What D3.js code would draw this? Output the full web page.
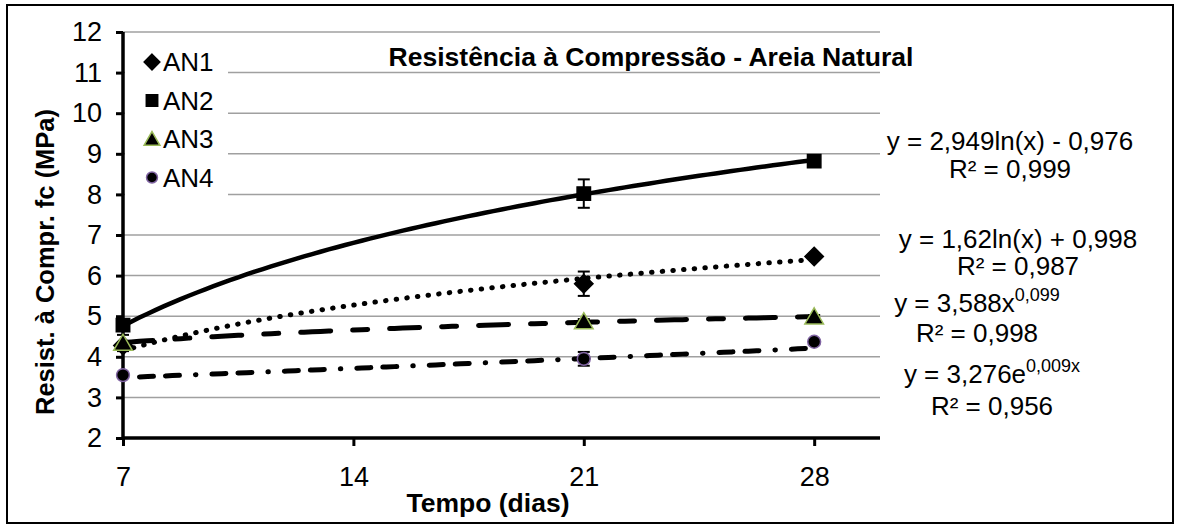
<!DOCTYPE html>
<html>
<head>
<meta charset="utf-8">
<script src="https://cdn.jsdelivr.net/npm/d3@7"></script>
<style>
  html, body { margin: 0; padding: 0; background: #fff; }
  svg { display: block; }
  text { font-family: "Liberation Sans", Arial, sans-serif; fill: #000; }
</style>
</head>
<body>
<svg id="chart" width="1181" height="528"></svg>
<script>
// Curing age (days) and compressive strength (MPa) per mix
const days = [7, 21, 28];
const seriesNames = ["AN1", "AN2", "AN3", "AN4"];
const an1 = [4.28, 5.80, 6.47];
const an2 = [4.78, 8.02, 8.82];
const an3 = [4.34, 4.87, 4.99];
const an4 = [3.55, 3.95, 4.37];
// Standard deviation of each mean
const an1Err = [0.08, 0.30, 0.05];
const an2Err = [0.12, 0.35, 0.05];
const an3Err = [0.20, 0.06, 0.04];
const an4Err = [0.05, 0.17, 0.04];

// Fitted trend lines: log -> a*ln(x)+b, power -> a*x^b, exp -> a*e^(b*x)
const trendKind = ["log", "log", "power", "exp"];
const trendA = [1.62, 2.949, 3.588, 3.276];
const trendB = [0.998, -0.976, 0.099, 0.009];
const trendR2 = [0.987, 0.999, 0.998, 0.956];

const xTicks = [7, 14, 21, 28];
const yTicks = [2, 3, 4, 5, 6, 7, 8, 9, 10, 11, 12];

const chartTitle = "Resistência à Compressão - Areia Natural";
const xTitle = "Tempo (dias)";
const yTitle = "Resist. à Compr. fc (MPa)";

const values = [an1, an2, an3, an4];
const errors = [an1Err, an2Err, an3Err, an4Err];

const svg = d3.select("#chart");
const x = d3.scaleLinear().domain([7, 30]).range([123, 880]);
const y = d3.scaleLinear().domain([2, 12]).range([438, 32]);

// outer frame
svg.append("rect").attr("x", 7).attr("y", 5).attr("width", 1166).attr("height", 518)
  .attr("fill", "#fff").attr("stroke", "#000").attr("stroke-width", 2);

// horizontal gridlines
svg.append("g").selectAll("line").data(yTicks.filter(d => d > 2)).join("line")
  .attr("x1", x(7)).attr("x2", x(30))
  .attr("y1", d => y(d)).attr("y2", d => y(d))
  .attr("stroke", "#a0a0a0").attr("stroke-width", 1.5);

// axes
const yAxis = d3.axisLeft(y).tickValues(yTicks).tickSize(7).tickPadding(14).tickFormat(d3.format("d"));
const gy = svg.append("g").attr("transform", `translate(${x(7)},0)`).call(yAxis);
const xAxis = d3.axisBottom(x).tickValues(xTicks).tickSize(8).tickPadding(21).tickFormat(d3.format("d"));
const gx = svg.append("g").attr("transform", `translate(0,${y(2)})`).call(xAxis);
[gx, gy].forEach(g => {
  g.select(".domain").attr("stroke", "#000").attr("stroke-width", 3.5);
  g.selectAll(".tick line").attr("stroke", "#000").attr("stroke-width", 3);
  g.selectAll(".tick text").attr("font-size", 27).attr("font-family", "Liberation Sans, Arial, sans-serif").attr("fill", "#000");
});
gy.select(".domain").attr("d", `M0,${y(2)}V${y(12)}`);
gx.select(".domain").attr("d", `M${x(7)},0H${x(30)}`);

// trend lines
const lineStyles = [
  { width: 5, dash: "0.5,10.2" },
  { width: 4.5, dash: null },
  { width: 5, dash: "30,22,15,22" },
  { width: 5, dash: "0.5,16,14,12,14,16" }
];
function trendFn(i) {
  const a = trendA[i], b = trendB[i];
  if (trendKind[i] === "log") return t => a * Math.log(t) + b;
  if (trendKind[i] === "power") return t => a * Math.pow(t, b);
  return t => a * Math.exp(b * t);
}
const samples = d3.range(7, 28.001, 0.25);
const line = d3.line().x(d => x(d[0])).y(d => y(d[1])).curve(d3.curveLinear);
[1, 0, 2, 3].forEach(i => {
  const f = trendFn(i);
  svg.append("path")
    .attr("d", line(samples.map(t => [t, f(t)])))
    .attr("fill", "none").attr("stroke", "#000")
    .attr("stroke-width", lineStyles[i].width)
    .attr("stroke-linecap", "round")
    .attr("stroke-dasharray", lineStyles[i].dash);
});

// error bars
values.forEach((vals, i) => {
  const g = svg.append("g");
  vals.forEach((v, j) => {
    const e = errors[i][j];
    const cx = x(days[j]);
    g.append("line").attr("x1", cx).attr("x2", cx).attr("y1", y(v - e)).attr("y2", y(v + e))
      .attr("stroke", "#000").attr("stroke-width", 2);
    [v - e, v + e].forEach(w => g.append("line")
      .attr("x1", cx - 6).attr("x2", cx + 6).attr("y1", y(w)).attr("y2", y(w))
      .attr("stroke", "#000").attr("stroke-width", 2));
  });
});

// markers: square-rotated diamond, square, triangle, circle
const squareDiamond = {
  draw(ctx, size) {
    const r = Math.sqrt(size / 2);
    ctx.moveTo(0, -r); ctx.lineTo(r, 0); ctx.lineTo(0, r); ctx.lineTo(-r, 0); ctx.closePath();
  }
};
const markerSpec = [
  { type: squareDiamond, size: 170, stroke: "#000" },
  { type: d3.symbolSquare, size: 180, stroke: "#000" },
  { type: d3.symbolTriangle, size: 150, stroke: "#9bbb59" },
  { type: d3.symbolCircle, size: 130, stroke: "#8064a2" }
];
function marker(sel, i, cx, cy, scale = 1) {
  const m = markerSpec[i];
  const dy = m.type === d3.symbolTriangle ? 2 * scale : 0;
  sel.append("path").attr("d", d3.symbol(m.type, m.size * scale * scale)())
    .attr("transform", `translate(${cx},${cy + dy})`)
    .attr("fill", "#000").attr("stroke", m.stroke).attr("stroke-width", 1.5);
}
// series drawn in order, later ones on top
[0, 1, 2, 3].forEach(i => {
  values[i].forEach((v, j) => marker(svg, i, x(days[j]), y(v)));
});

// legend
const leg = svg.append("g");
leg.append("rect").attr("x", x(7) + 2).attr("y", 42).attr("width", 103).attr("height", 170).attr("fill", "#fff");
seriesNames.forEach((name, i) => {
  const by = 71 + i * 38.5;
  marker(leg, i, 152, by - 9, 0.85);
  leg.append("text").attr("x", 163).attr("y", by).attr("font-size", 26).text(name);
});

// titles
svg.append("text").attr("x", 651).attr("y", 66).attr("text-anchor", "middle")
  .attr("font-size", 26.5).attr("font-weight", "bold").text(chartTitle);
svg.append("text").attr("x", 488).attr("y", 512).attr("text-anchor", "middle")
  .attr("font-size", 26.5).attr("font-weight", "bold").text(xTitle);
svg.append("text").attr("transform", "translate(54,262) rotate(-90)").attr("text-anchor", "middle")
  .attr("font-size", 25.5).attr("font-weight", "bold").text(yTitle);

// trend equations
const fmt = v => String(Math.abs(v)).replace(".", ",");
const eqPos = [
  { cx: 1018, y1: 248, y2: 275 },
  { cx: 1010, y1: 150, y2: 178 },
  { cx: 977, y1: 312, y2: 342 },
  { cx: 992, y1: 383, y2: 415 }
];
seriesNames.forEach((_, i) => {
  const p = eqPos[i];
  const t = svg.append("text").attr("x", p.cx).attr("y", p.y1).attr("text-anchor", "middle").attr("font-size", 26);
  const a = fmt(trendA[i]), b = fmt(trendB[i]);
  if (trendKind[i] === "log") {
    t.text(`y = ${a}ln(x) ${trendB[i] < 0 ? "-" : "+"} ${b}`);
  } else if (trendKind[i] === "power") {
    t.append("tspan").text(`y = ${a}x`);
    t.append("tspan").attr("dy", -11).attr("font-size", 18).text(b);
  } else {
    t.append("tspan").text(`y = ${a}e`);
    t.append("tspan").attr("dy", -11).attr("font-size", 18).text(`${b}x`);
  }
  svg.append("text").attr("x", p.cx).attr("y", p.y2).attr("text-anchor", "middle").attr("font-size", 26)
    .text(`R² = ${fmt(trendR2[i])}`);
});
</script>
</body>
</html>
